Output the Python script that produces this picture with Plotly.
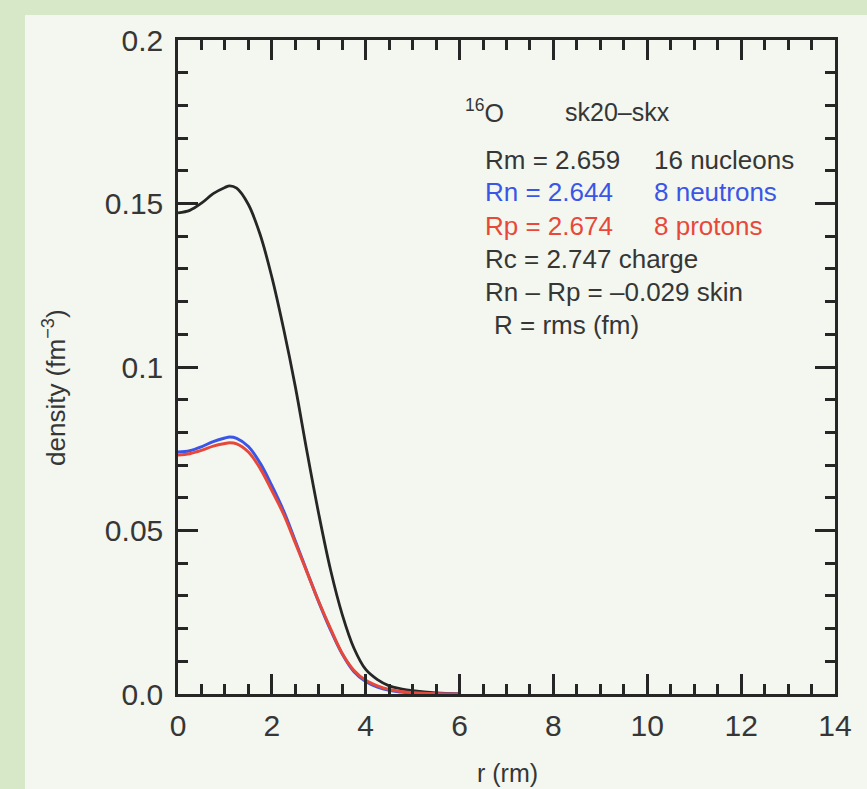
import plotly.graph_objects as go

# ---- data ----
r = [0.0, 0.25, 0.5, 0.75, 1.0, 1.1, 1.25, 1.5, 1.75, 2.0, 2.25, 2.5, 2.75,
     3.0, 3.25, 3.5, 3.75, 4.0, 4.25, 4.5, 4.75, 5.0, 5.5, 6.0]
rho_total = [0.1471, 0.1479, 0.1501, 0.1530, 0.1549, 0.1554, 0.1547, 0.1497,
             0.1405, 0.1275, 0.1117, 0.0940, 0.0740, 0.0550, 0.0380, 0.0243,
             0.0140, 0.0075, 0.0044, 0.0025, 0.0016, 0.0010, 0.0003, 0.00005]
rho_neutron = [0.0740, 0.0744, 0.0756, 0.0772, 0.0783, 0.0786, 0.0782, 0.0757,
               0.0706, 0.0637, 0.0560, 0.0468, 0.0374, 0.0281, 0.0196, 0.0122,
               0.0068, 0.0038, 0.0021, 0.0011, 0.0006, 0.0003, 0.0001, 0.00002]
rho_proton = [0.0731, 0.0735, 0.0745, 0.0758, 0.0766, 0.0768, 0.0765, 0.0740,
              0.0690, 0.0622, 0.0550, 0.0462, 0.0372, 0.0282, 0.0200, 0.0124,
              0.0072, 0.0042, 0.0025, 0.0014, 0.0008, 0.0004, 0.0001, 0.00003]

x_ticks = [0, 2, 4, 6, 8, 10, 12, 14]
y_ticks = [0.0, 0.05, 0.1, 0.15, 0.2]
y_tick_text = ["0.0", "0.05", "0.1", "0.15", "0.2"]

# ---- styling ----
W, H = 867, 789
L, R, T, B = 178, 835, 40, 694
BLACK = "#262626"
BLUE = "#3b55e6"
RED = "#e8483a"
TXT = "#363636"
FONT = "Liberation Sans, Arial, Helvetica, sans-serif"


def px(x):
    return (x - L) / (R - L)


def py(y):
    return (B - y) / (B - T)


fig = go.Figure()
fig.add_trace(go.Scatter(x=r, y=rho_total, mode="lines",
                         line=dict(color=BLACK, width=2.8, shape="spline"),
                         showlegend=False))
fig.add_trace(go.Scatter(x=r, y=rho_neutron, mode="lines",
                         line=dict(color=BLUE, width=3, shape="spline"),
                         showlegend=False))
fig.add_trace(go.Scatter(x=r, y=rho_proton, mode="lines",
                         line=dict(color=RED, width=3, shape="spline"),
                         showlegend=False))

axis_common = dict(showgrid=False, zeroline=False, showline=True,
                   linecolor=BLACK, linewidth=2.5, mirror="ticks",
                   ticks="inside", tickcolor=BLACK, tickwidth=2.5,
                   ticklen=20,
                   tickfont=dict(family=FONT, size=30, color=TXT))

fig.update_xaxes(range=[0, 14], tickvals=x_ticks, ticklabelstandoff=3,
                 minor=dict(dtick=0.5, ticks="inside", ticklen=10,
                            tickwidth=2.5, tickcolor=BLACK, showgrid=False),
                 **axis_common)
fig.update_yaxes(range=[0, 0.2], tickvals=y_ticks, ticktext=y_tick_text,
                 ticklabelstandoff=6,
                 minor=dict(dtick=0.01, ticks="inside", ticklen=10,
                            tickwidth=2.5, tickcolor=BLACK, showgrid=False),
                 **axis_common)

shapes = [dict(type="rect", xref="paper", yref="paper", layer="below",
               x0=px(25), x1=px(W + 5), y0=py(H + 5), y1=py(15),
               line=dict(width=0), fillcolor="#f3f7ef")]

ann = []


def add_text(text, x, y, color=TXT, size=26, angle=0, xanchor="left"):
    ann.append(dict(text=text, x=px(x), y=py(y), xref="paper", yref="paper",
                    showarrow=False, xanchor=xanchor, yanchor="middle",
                    textangle=angle,
                    font=dict(family=FONT, size=size, color=color)))


add_text("<sup>16</sup>O", 463, 111, size=25)
add_text("sk20\u2013skx", 563, 112, size=25)
add_text("Rm = 2.659", 483, 160)
add_text("16 nucleons", 652, 160)
add_text("Rn = 2.644", 483, 192, color=BLUE)
add_text("8 neutrons", 652, 192, color=BLUE)
add_text("Rp = 2.674", 483, 226, color=RED)
add_text("8 protons", 652, 226, color=RED)
add_text("Rc = 2.747 charge", 483, 259)
add_text("Rn \u2013 Rp = \u20130.029 skin", 483, 292)
add_text("R = rms (fm)", 492, 325)
add_text("density (fm<sup>\u22123</sup>)", 55, 388, size=26, angle=-90,
         xanchor="center")
add_text("r (rm)", 507, 773, size=25, xanchor="center")

fig.update_layout(width=W, height=H,
                  margin=dict(l=L, r=W - R, t=T, b=H - B),
                  paper_bgcolor="#d6e8c8", plot_bgcolor="#f3f7ef",
                  shapes=shapes, annotations=ann,
                  font=dict(family=FONT, color=TXT))

fig.write_html("out.html", config={"displayModeBar": False},
               post_script="document.body.style.margin='0';"
                           "document.body.style.overflow='hidden';")
